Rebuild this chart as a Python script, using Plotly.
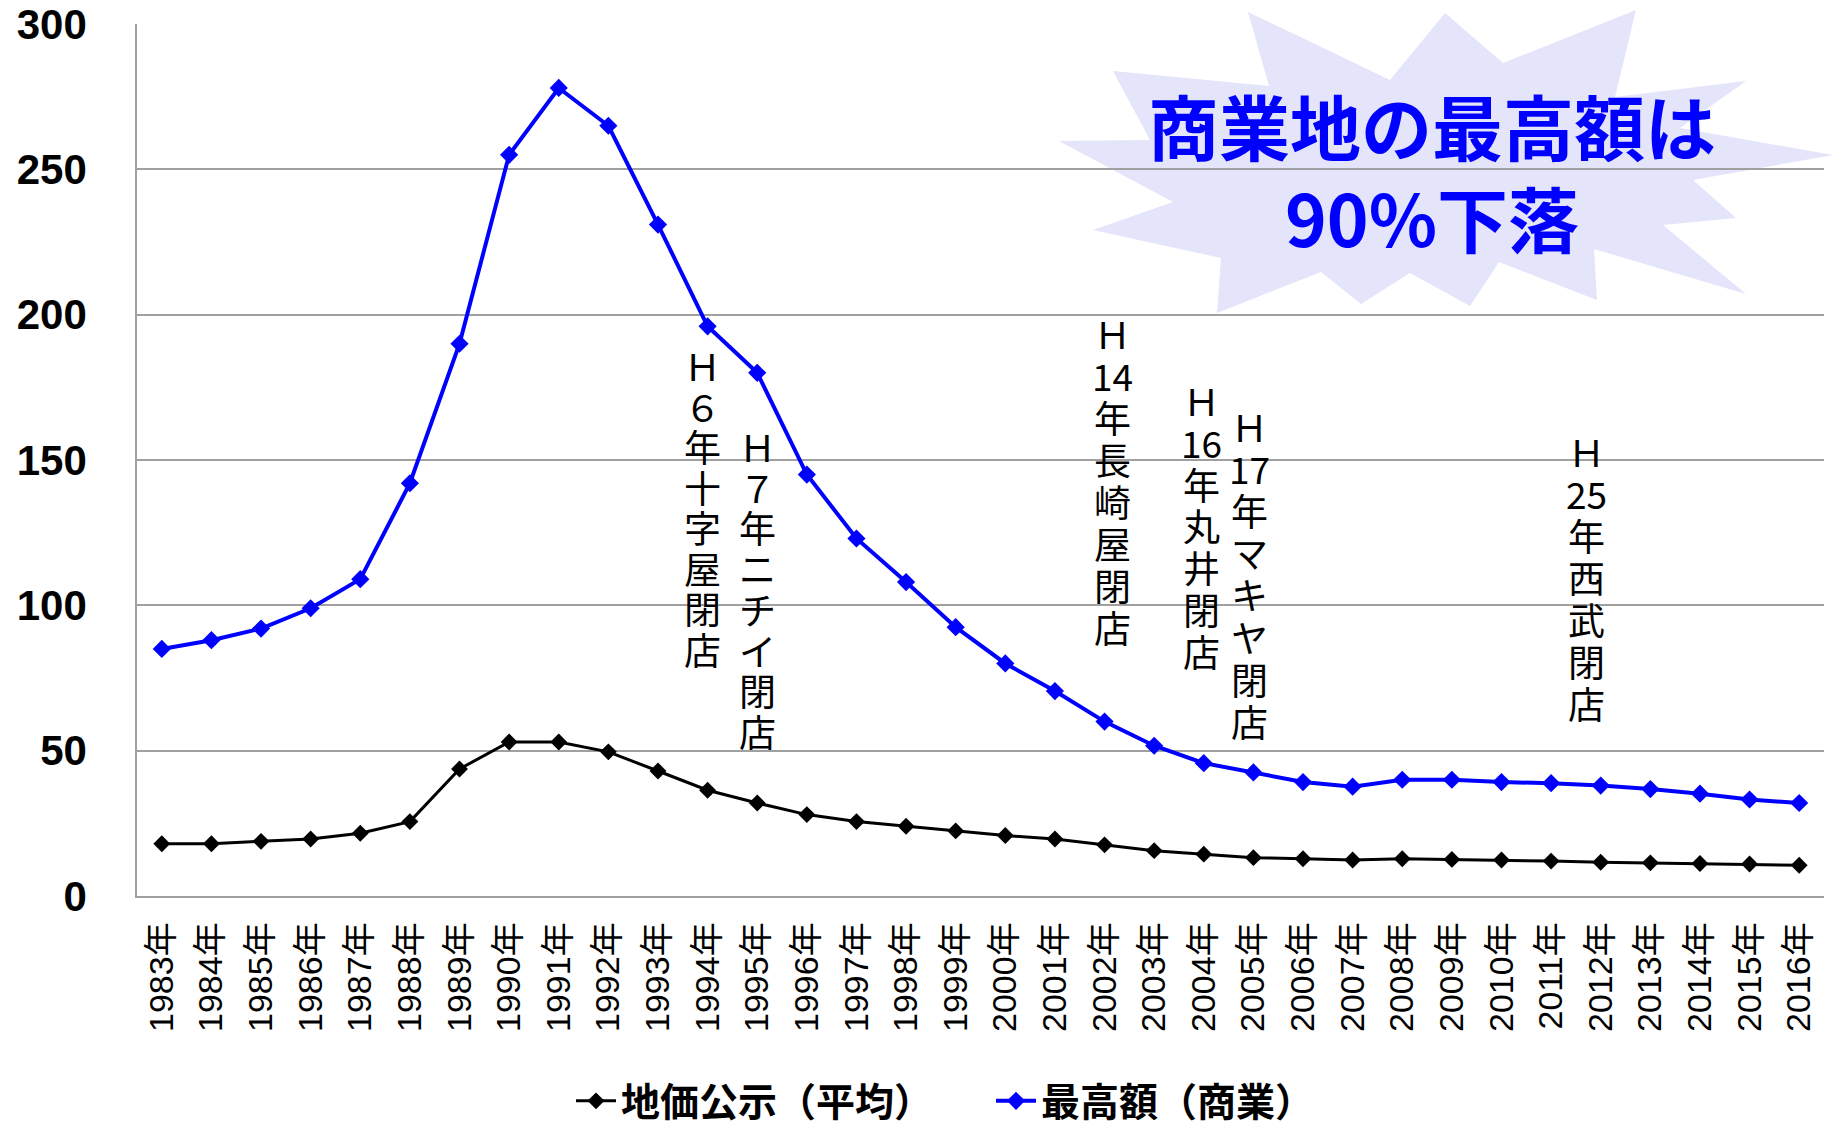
import plotly.graph_objects as go

# ---------------- data ----------------
years = ["1983年", "1984年", "1985年", "1986年", "1987年", "1988年", "1989年", "1990年",
         "1991年", "1992年", "1993年", "1994年", "1995年", "1996年", "1997年", "1998年",
         "1999年", "2000年", "2001年", "2002年", "2003年", "2004年", "2005年", "2006年",
         "2007年", "2008年", "2009年", "2010年", "2011年", "2012年", "2013年", "2014年",
         "2015年", "2016年"]

avg_price = [18, 18, 18.8, 19.6, 21.6, 25.6, 43.7, 53, 53, 49.6, 43, 36.4, 32, 28, 25.6, 24,
             22.4, 20.8, 19.6, 17.6, 15.6, 14.4, 13.2, 12.8, 12.4, 12.8, 12.6, 12.4, 12, 11.6,
             11.4, 11.2, 11, 10.6]

max_price = [85, 88, 92, 99, 109, 142, 190, 255, 278, 265, 231, 196, 180, 145, 123, 108,
             92.5, 80, 70.5, 60, 51.7, 45.7, 42.5, 39.2, 37.6, 40, 40, 39.2, 38.8, 38, 36.8,
             35.2, 33.2, 32]

series_names = ["地価公示（平均）", "最高額（商業）"]
y_ticks = [0, 50, 100, 150, 200, 250, 300]

# closure notes: vertical text tokens, position (category index)
note_tokens = [
    ["Ｈ", "６", "年", "十", "字", "屋", "閉", "店"],
    ["Ｈ", "７", "年", "ニ", "チ", "イ", "閉", "店"],
    ["Ｈ", "14", "年", "長", "崎", "屋", "閉", "店"],
    ["Ｈ", "16", "年", "丸", "井", "閉", "店"],
    ["Ｈ", "17", "年", "マ", "キ", "ヤ", "閉", "店"],
    ["Ｈ", "25", "年", "西", "武", "閉", "店"],
]
note_x = [10.9, 12.0, 19.17, 20.96, 21.93, 28.72]
note_top_px = [365, 446, 333, 400, 426, 451]
note_pitch_px = [40.5, 40.7, 42, 41.8, 42.1, 42]

callout_text = "商業地の最高額は<br>90%下落"

# ---------------- layout geometry ----------------
W, H = 1833, 1128
ML, MR, MT, MB = 137, 9, 24, 232
PW = W - ML - MR
PH = H - MT - MB


def px_to_paper(px, py):
    return (px - ML) / PW, (H - MB - py) / PH


fig = go.Figure()

fig.add_trace(go.Scatter(
    x=years, y=avg_price, name=series_names[0], mode="lines+markers",
    line=dict(color="#000000", width=3),
    marker=dict(symbol="diamond", size=13, color="#000000"),
))
fig.add_trace(go.Scatter(
    x=years, y=max_price, name=series_names[1], mode="lines+markers",
    line=dict(color="#0000FF", width=4),
    marker=dict(symbol="diamond", size=14, color="#0000FF"),
))

# starburst callout (decoration, pixel outline)
burst_px = [(1248, 12), (1390, 80), (1445, 13), (1503, 63), (1636, 10), (1615, 97),
            (1746, 81), (1680, 128), (1833, 155), (1693, 180), (1736, 218), (1663, 225),
            (1746, 294), (1594, 249), (1597, 300), (1499, 262), (1470, 306), (1410, 273),
            (1361, 304), (1321, 272), (1217, 313), (1221, 258), (1093, 230), (1173, 202),
            (1059, 141), (1150, 140), (1113, 71), (1269, 86)]
pts = [px_to_paper(a, b) for a, b in burst_px]
path = "M " + " L ".join(f"{x:.5f},{y:.5f}" for x, y in pts) + " Z"
fig.add_shape(type="path", path=path, xref="paper", yref="paper",
              fillcolor="#E4E4FA", line=dict(width=0), layer="below")

cx, cy = px_to_paper(1432, 170)
fig.add_annotation(x=cx, y=cy, xref="paper", yref="paper", text=callout_text,
                   showarrow=False, xanchor="center", yanchor="middle", align="center",
                   font=dict(family="Noto Sans CJK JP", size=71, color="#0000FF", weight="bold"))

for toks, xi, top, pitch in zip(note_tokens, note_x, note_top_px, note_pitch_px):
    for k, t in enumerate(toks):
        _, yy = px_to_paper(0, top + k * pitch)
        fig.add_annotation(x=xi, y=yy, xref="x", yref="paper", text=t, showarrow=False,
                           xanchor="center", yanchor="middle", height=40, valign="middle",
                           borderpad=0,
                           font=dict(family="Noto Sans CJK JP", size=37, color="#000000"))

lx, ly = px_to_paper(571, 1101)
fig.update_layout(
    width=W, height=H,
    margin=dict(l=ML, r=MR, t=MT, b=MB, autoexpand=False),
    paper_bgcolor="white", plot_bgcolor="rgba(0,0,0,0)",
    showlegend=True,
    legend=dict(orientation="h", x=lx, y=ly, xanchor="left", yanchor="middle",
                font=dict(family="Noto Sans CJK JP", size=39, color="#000000", weight="bold"),
                itemwidth=40, entrywidth=365),
    xaxis=dict(type="category", tickangle=-90, showgrid=False, automargin=False,
               showline=True, linecolor="#A0A0A0", linewidth=1.5,
               ticks="", tickfont=dict(family="Liberation Sans, Noto Sans CJK JP", size=34, color="#000000"),
               ticklabelstandoff=11, range=[-0.5, len(years) - 0.5]),
    yaxis=dict(range=[0, 300], tickvals=y_ticks, showgrid=True, gridcolor="#A0A0A0", gridwidth=1.5,
               showline=True, linecolor="#A0A0A0", linewidth=1.5, zeroline=False, automargin=False,
               ticks="", ticklabelstandoff=40,
               tickfont=dict(family="Liberation Sans", size=42, color="#000000", weight="bold")),
)

fig.write_html("out.html", config={"displayModeBar": False},
               post_script="document.body.style.margin='0px';document.body.style.overflow='hidden';")
